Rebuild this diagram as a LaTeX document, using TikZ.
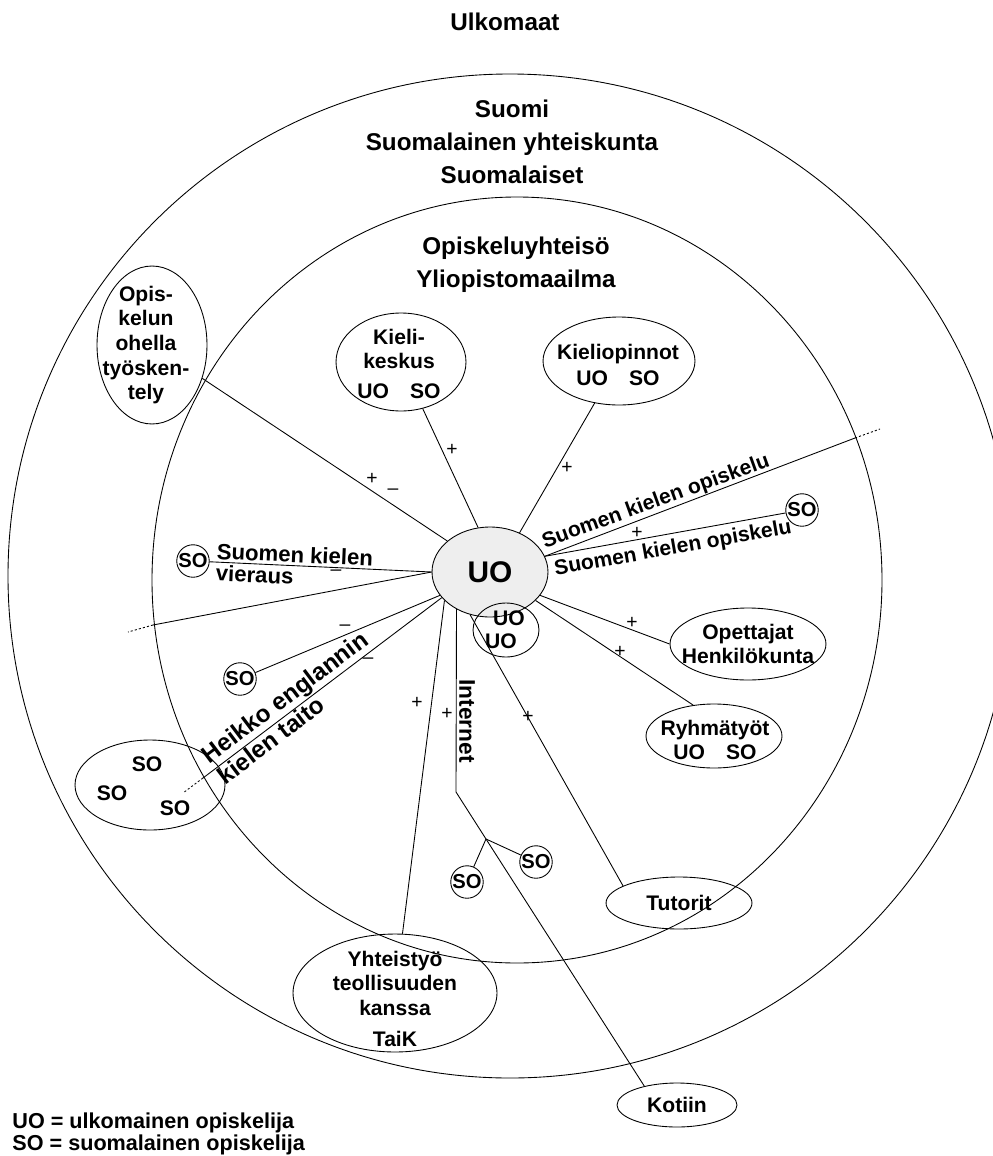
\documentclass[tikz,border=0pt]{standalone}
\usepackage{fontspec}
\setmainfont{Liberation Sans}
\usetikzlibrary{shapes.geometric}

\tikzset{
  bub/.style 2 args={ellipse, draw, inner sep=0pt, minimum width=#1*0.4mm, minimum height=#2*0.4mm},
  so/.style={circle, draw, inner sep=0pt, minimum size=0.64cm, font=\fontsize{11.5}{12}\selectfont\bfseries},
  txt/.style={font=\fontsize{12}{14}\selectfont\bfseries, align=center, inner sep=0pt},
  lbl/.style={font=\fontsize{12.6}{14.6}\selectfont\bfseries, align=left, inner sep=0pt},
  big/.style={font=\fontsize{13.8}{18.8}\selectfont\bfseries, align=center, inner sep=0pt},
  sgn/.style={font=\fontsize{11}{13}\selectfont, inner sep=0pt},
  dots/.style={dash pattern=on 1.2pt off 1.2pt},
}

\begin{document}
\begin{tikzpicture}[x=0.02cm, y=-0.02cm, line width=0.5pt]
\useasboundingbox (0,0) rectangle (992,1156);

% the two rings
\draw (510,576) ellipse (502 and 502);
\draw (517,580) ellipse (365 and 383);

\node[big] (ulko) at (505,22) {Ulkomaat};
\node[big] (suomi) at (512,142) {Suomi\\Suomalainen yhteiskunta\\Suomalaiset};
\node[big] (opyh) at (516,265) {Opiskeluyhteisö\\Yliopistomaailma};

% centre
\node[bub={58}{45}, fill=gray!13, font=\fontsize{17}{20}\selectfont\bfseries] (uo) at (490,572) {UO};
\node[bub={33}{27}] (uouo) at (506,630) {};
\node[txt] (uo1) at (509,618) {UO};
\node[txt] (uo2) at (501,641) {UO};

% bubbles
\node[bub={55}{79}] (tyo) at (152,345) {};
\node[txt] (tyot) at (146,345) {Opis-\\kelun\\ohella\\työsken-\\tely};
\node[bub={65}{49}] (kk) at (401,362) {};
\node[txt] (kkt) at (399,364) {Kieli-\\keskus\\[3pt]UO\quad SO};
\node[bub={76}{44}] (kp) at (619,361) {};
\node[txt] (kpt) at (618,365) {Kieliopinnot\\[1pt]UO\quad SO};
\node[bub={78}{36}] (opett) at (748,644) {};
\node[txt] (opettt) at (748,644) {Opettajat\\Henkilökunta};
\node[bub={68}{32}] (ryhma) at (714,736) {};
\node[txt] (ryhmat) at (715,740) {Ryhmätyöt\\UO\quad SO};
\node[bub={73}{26}, txt] (tutor) at (679,903) {Tutorit};
\node[bub={60}{22}, txt] (kotiin) at (677,1105) {Kotiin};
\node[bub={102}{59}] (yht) at (395,993) {};
\node[txt] (yhtt) at (395,999) {Yhteistyö\\teollisuuden\\kanssa\\[4pt]TaiK};
\node[bub={75}{45}] (sog) at (150,785) {};
\node[txt] (sog1) at (147,764) {SO};
\node[txt] (sog2) at (112,793) {SO};
\node[txt] (sog3) at (175,808) {SO};

% single students
\node[so] (so1) at (802,510) {SO};
\node[so] (sov) at (193,561) {SO};
\node[so] (so2) at (240,679) {SO};
\node[so] (soi1) at (467,882) {SO};
\node[so] (soi2) at (536,862) {SO};

% free ends
\coordinate (ne) at (855,438);
\coordinate (nex) at (880,429);
\coordinate (sw) at (153,625);
\coordinate (swx) at (128,632);
\coordinate (he) at (203,778);
\coordinate (hex) at (183,793);
\coordinate (ibend) at (456,792);
\coordinate (ifork) at (486,839);

% spokes
\draw (uo.144) -- (tyo);
\draw (uo.105) -- (kk);
\draw (uo.53) -- (kp);
\draw (uo.16) -- (ne);
\draw[dots] (ne) -- (nex);
\draw (uo.16) -- (so1);
\draw (uo.180) -- (sov);
\draw (uo.180) -- (sw);
\draw[dots] (sw) -- (swx);
\draw (uo.205) -- (so2);
\draw (uo.208) -- (he);
\draw[dots] (he) -- (hex);
\draw (uo.212) -- (yht);
\draw (uo.228) -- (ibend) -- (ifork) -- (kotiin.150);
\draw (ifork) -- (soi1);
\draw (ifork) -- (soi2);
\draw (uo.245) -- (tutor.163);
\draw (uo.328) -- (ryhma.124);
\draw (uo.335) -- (opett.west);

% spoke labels
\node[lbl, font=\fontsize{12}{14}\selectfont\bfseries, rotate=20] (sko1) at (656,502) {Suomen kielen opiskelu};
\node[lbl, font=\fontsize{12}{14}\selectfont\bfseries, rotate=10] (sko2) at (673,549) {Suomen kielen opiskelu};
\node[lbl, font=\fontsize{12.6}{12.4}\selectfont\bfseries, rotate=-2.5, anchor=west] (vier) at (216,562) {Suomen kielen\\vieraus};
\node[lbl, font=\fontsize{13.8}{15}\selectfont\bfseries, rotate=37, anchor=west] (heng) at (212,768) {Heikko englannin\\kielen taito};
\node[lbl, font=\fontsize{12.9}{14}\selectfont\bfseries, rotate=-90] (inet) at (467,721) {Internet};

% signs
\node[sgn] (s1) at (372,479) {+};
\node[sgn] (s2) at (393,492) {--};
\node[sgn] (s3) at (452,450) {+};
\node[sgn] (s4) at (567,468) {+};
\node[sgn] (s5) at (637,533) {+};
\node[sgn] (s6) at (336,573) {--};
\node[sgn] (s7) at (345,628) {--};
\node[sgn] (s8) at (368,661) {--};
\node[sgn] (s9) at (417,703) {+};
\node[sgn] (s10) at (447,714) {+};
\node[sgn] (s11) at (528,717) {+};
\node[sgn] (s12) at (620,652) {+};
\node[sgn] (s13) at (632,623) {+};

% legend
\node[lbl, anchor=west, font=\fontsize{12.3}{12.5}\selectfont\bfseries] (leg) at (12,1134) {UO = ulkomainen opiskelija\\SO = suomalainen opiskelija};
\end{tikzpicture}
\end{document}
